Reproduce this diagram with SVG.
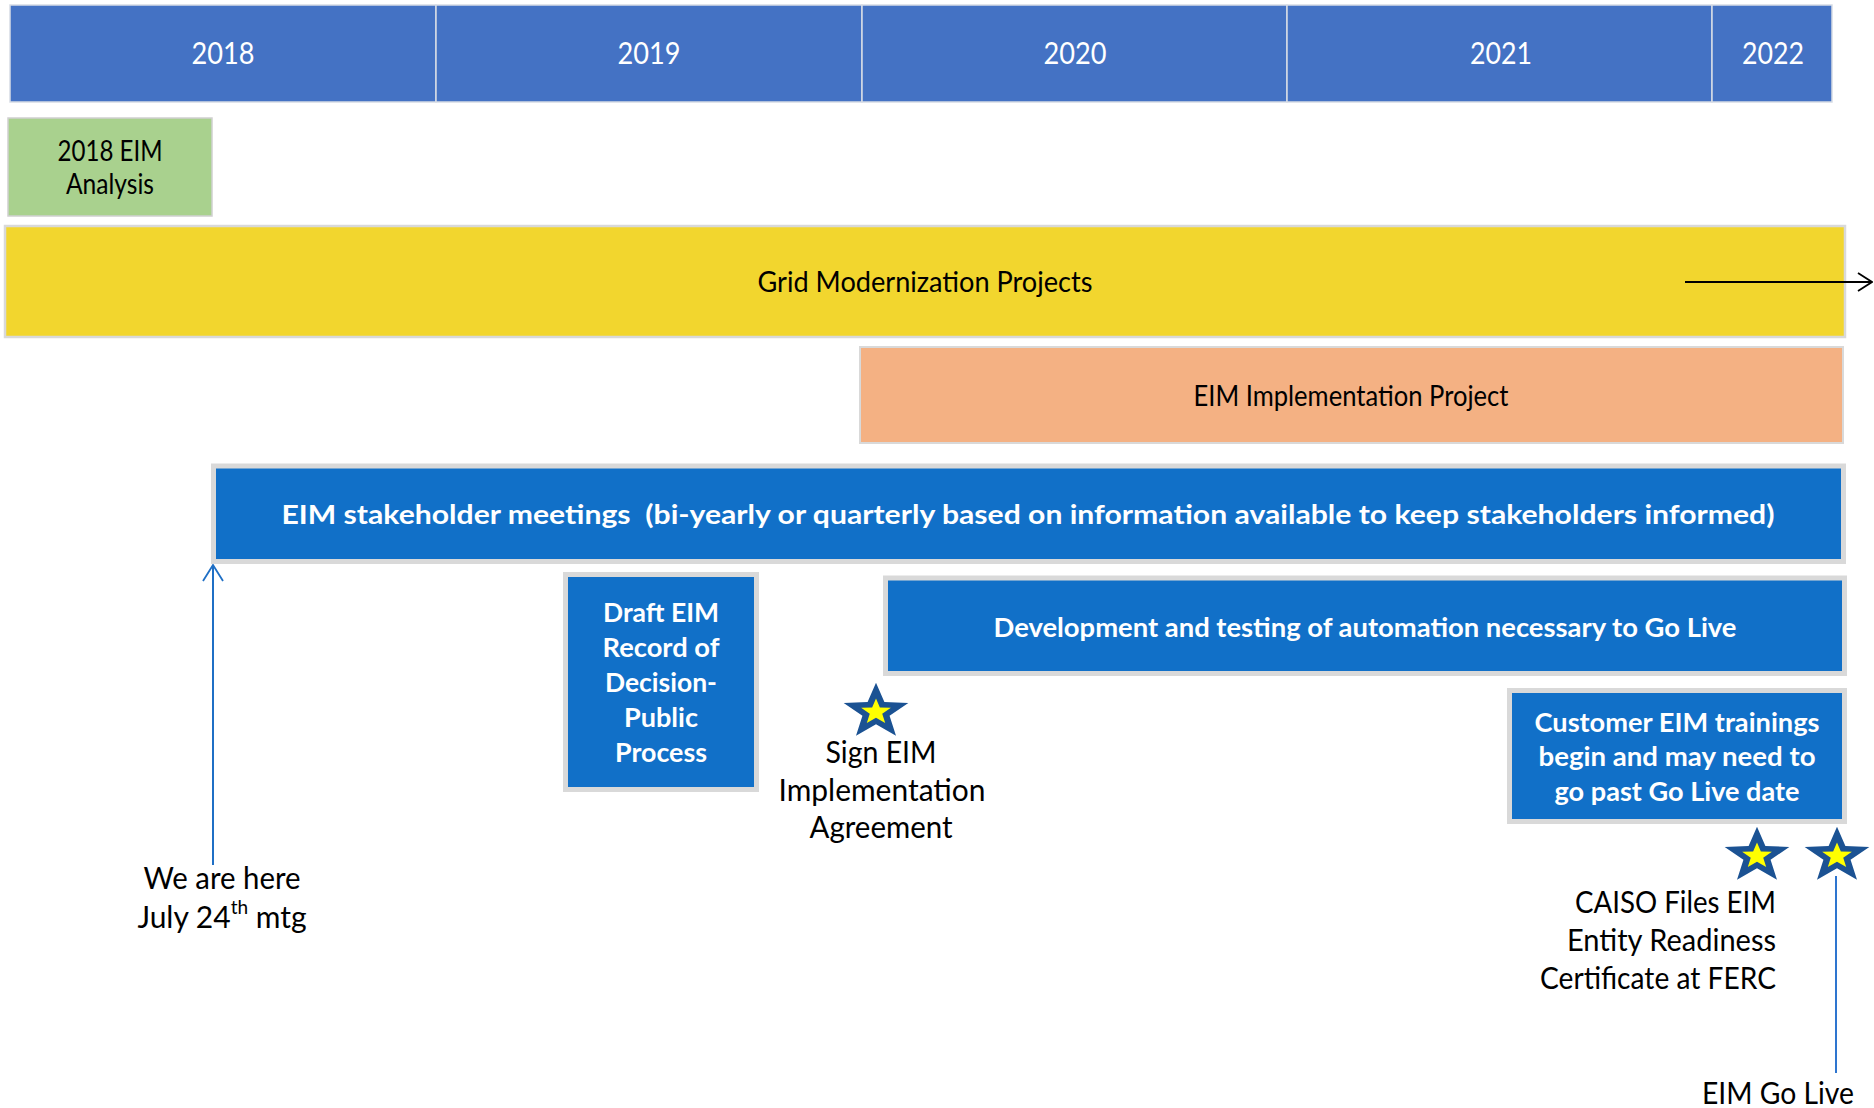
<svg xmlns="http://www.w3.org/2000/svg" xmlns:xlink="http://www.w3.org/1999/xlink" width="1874" height="1108" viewBox="0 0 1874 1108">
<style>
text{font-family:Lato,"Open Sans","Liberation Sans",sans-serif;dominant-baseline:central;text-anchor:middle}
.yr{fill:#fff;font-size:31px}
.dk{fill:#000;font-size:28px}
.lb{fill:#000;font-size:30px}
.wb{fill:#fff;font-size:27px;font-weight:bold}
.cell{fill:#4472C4;stroke:#D6DCE5;stroke-width:1.5}
.bb{fill:#1170C8;stroke:#D9D9D9;stroke-width:5}
.conn{fill:none}
</style>
<defs>
<g id="star">
<polygon fill="#1B5293" points="0,-1 0.247,-0.34 0.951,-0.309 0.399,0.13 0.588,0.809 0,0.42 -0.588,0.809 -0.399,0.13 -0.951,-0.309 -0.247,-0.34"/>
<polygon fill="#FFFF00" transform="scale(0.46)" points="0,-1 0.247,-0.34 0.951,-0.309 0.399,0.13 0.588,0.809 0,0.42 -0.588,0.809 -0.399,0.13 -0.951,-0.309 -0.247,-0.34"/>
</g>
<marker id="ahBlack" viewBox="0 0 16 20" refX="15" refY="10" markerWidth="16" markerHeight="20" markerUnits="userSpaceOnUse" orient="auto">
<path d="M1,1 L15,10 L1,19" fill="none" stroke="#000" stroke-width="1.8"/>
</marker>
<marker id="ahBlue" viewBox="0 0 18 22" refX="17" refY="11" markerWidth="18" markerHeight="22" markerUnits="userSpaceOnUse" orient="auto">
<path d="M1,1 L17,11 L1,21" fill="none" stroke="#1F6FC5" stroke-width="1.8"/>
</marker>
</defs>

<g id="timeline">
<rect class="cell" x="10" y="5" width="426" height="97"/>
<rect class="cell" x="436" y="5" width="426" height="97"/>
<rect class="cell" x="862" y="5" width="425" height="97"/>
<rect class="cell" x="1287" y="5" width="425" height="97"/>
<rect class="cell" x="1712" y="5" width="120" height="97"/>
<text class="yr" x="223" y="52" textLength="63" lengthAdjust="spacingAndGlyphs">2018</text>
<text class="yr" x="649" y="52" textLength="63" lengthAdjust="spacingAndGlyphs">2019</text>
<text class="yr" x="1075" y="52" textLength="63" lengthAdjust="spacingAndGlyphs">2020</text>
<text class="yr" x="1501" y="52" textLength="62" lengthAdjust="spacingAndGlyphs">2021</text>
<text class="yr" x="1773" y="52" textLength="62" lengthAdjust="spacingAndGlyphs">2022</text>
</g>

<g id="eim-analysis">
<rect x="8" y="118" width="204" height="98" fill="#A9D18E" stroke="#D0D0D0" stroke-width="1.5"/>
<text class="dk" x="110" y="150" textLength="105" lengthAdjust="spacingAndGlyphs">2018 EIM</text>
<text class="dk" x="110" y="183" textLength="88" lengthAdjust="spacingAndGlyphs">Analysis</text>
</g>

<g id="grid-modernization">
<rect x="5" y="226" width="1840" height="111" fill="#F2D62E" stroke="#D9D9D9" stroke-width="2.5"/>
<text class="dk" x="925" y="281" textLength="335" lengthAdjust="spacingAndGlyphs">Grid Modernization Projects</text>
</g>

<g id="eim-implementation">
<rect x="860" y="347" width="983" height="96" fill="#F4B183" stroke="#D9D9D9" stroke-width="2"/>
<text class="dk" x="1351" y="395" textLength="315" lengthAdjust="spacingAndGlyphs">EIM Implementation Project</text>
</g>

<g id="stakeholder-meetings">
<rect class="bb" x="213.5" y="466" width="1630" height="95.5"/>
<text class="wb" x="1028" y="513" font-size="29" textLength="1493" lengthAdjust="spacingAndGlyphs" xml:space="preserve">EIM stakeholder meetings  (bi-yearly or quarterly based on information available to keep stakeholders informed)</text>
</g>

<g id="draft-rod">
<rect class="bb" x="565.5" y="574.5" width="191" height="215"/>
<text class="wb" x="661" y="611" textLength="116" lengthAdjust="spacingAndGlyphs">Draft EIM</text>
<text class="wb" x="661" y="646" textLength="117" lengthAdjust="spacingAndGlyphs">Record of</text>
<text class="wb" x="661" y="681" textLength="112" lengthAdjust="spacingAndGlyphs">Decision-</text>
<text class="wb" x="661" y="716" textLength="74" lengthAdjust="spacingAndGlyphs">Public</text>
<text class="wb" x="661" y="751" textLength="92" lengthAdjust="spacingAndGlyphs">Process</text>
</g>

<g id="development-testing">
<rect class="bb" x="885.5" y="578" width="959" height="95.5"/>
<text class="wb" x="1365" y="626" textLength="743" lengthAdjust="spacingAndGlyphs">Development and testing of automation necessary to Go Live</text>
</g>

<g id="customer-trainings">
<rect class="bb" x="1509.5" y="690.5" width="335" height="131"/>
<text class="wb" x="1677" y="721" textLength="285" lengthAdjust="spacingAndGlyphs">Customer EIM trainings</text>
<text class="wb" x="1677" y="755" textLength="277" lengthAdjust="spacingAndGlyphs">begin and may need to</text>
<text class="wb" x="1677" y="790" textLength="245" lengthAdjust="spacingAndGlyphs">go past Go Live date</text>
</g>

<g id="sign-agreement">
<use xlink:href="#star" href="#star" transform="translate(876,712) scale(34,29.3)"/>
<text class="lb" x="881" y="751" textLength="111" lengthAdjust="spacingAndGlyphs">Sign EIM</text>
<text class="lb" x="882" y="789" textLength="207" lengthAdjust="spacingAndGlyphs">Implementation</text>
<text class="lb" x="881" y="826" textLength="143" lengthAdjust="spacingAndGlyphs">Agreement</text>
</g>

<g id="caiso-files">
<use xlink:href="#star" href="#star" transform="translate(1757,856) scale(34,29.3)"/>
<text class="lb" x="1776" y="901" style="text-anchor:end" textLength="201" lengthAdjust="spacingAndGlyphs">CAISO Files EIM</text>
<text class="lb" x="1776" y="939" style="text-anchor:end" textLength="209" lengthAdjust="spacingAndGlyphs">Entity Readiness</text>
<text class="lb" x="1776" y="977" style="text-anchor:end" textLength="236" lengthAdjust="spacingAndGlyphs">Certificate at FERC</text>
</g>

<g id="go-live">
<use xlink:href="#star" href="#star" transform="translate(1837,856) scale(34,29.3)"/>
<text class="lb" x="1778" y="1092" textLength="152" lengthAdjust="spacingAndGlyphs">EIM Go Live</text>
</g>

<g id="we-are-here">
<text class="lb" x="222" y="877" textLength="157" lengthAdjust="spacingAndGlyphs">We are here</text>
<text class="lb" x="222" y="916">July 24<tspan font-size="19" dy="-10">th</tspan><tspan dy="10"> mtg</tspan></text>
</g>

<g id="connectors">
<line class="conn" x1="1685" y1="282" x2="1872" y2="282" stroke="#000" stroke-width="1.8" marker-end="url(#ahBlack)"/>
<line class="conn" x1="213" y1="865" x2="213" y2="565" stroke="#1F6FC5" stroke-width="2" marker-end="url(#ahBlue)"/>
<line class="conn" x1="1836" y1="876" x2="1836" y2="1073" stroke="#2E75CF" stroke-width="2"/>
</g>
</svg>
